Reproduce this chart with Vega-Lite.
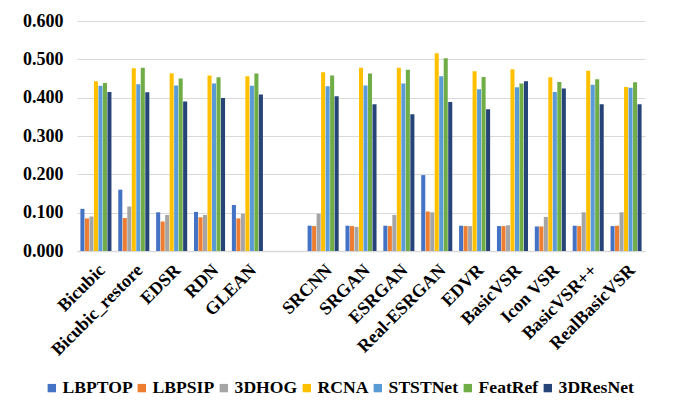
{
  "$schema": "https://vega.github.io/schema/vega-lite/v6.json",
  "width": 568,
  "height": 230,
  "autosize": {"type": "none"},
  "padding": {"left": 77, "top": 21, "right": 28, "bottom": 163},
  "background": "white",
  "datasets": {
    "scores": [
      {"model": "Bicubic", "LBPTOP": 0.110, "LBPSIP": 0.085, "3DHOG": 0.090, "RCNA": 0.443, "STSTNet": 0.431, "FeatRef": 0.438, "3DResNet": 0.415},
      {"model": "Bicubic_restore", "LBPTOP": 0.160, "LBPSIP": 0.086, "3DHOG": 0.116, "RCNA": 0.477, "STSTNet": 0.435, "FeatRef": 0.478, "3DResNet": 0.414},
      {"model": "EDSR", "LBPTOP": 0.101, "LBPSIP": 0.077, "3DHOG": 0.094, "RCNA": 0.464, "STSTNet": 0.432, "FeatRef": 0.450, "3DResNet": 0.390},
      {"model": "RDN", "LBPTOP": 0.102, "LBPSIP": 0.088, "3DHOG": 0.094, "RCNA": 0.458, "STSTNet": 0.437, "FeatRef": 0.453, "3DResNet": 0.399},
      {"model": "GLEAN", "LBPTOP": 0.120, "LBPSIP": 0.085, "3DHOG": 0.097, "RCNA": 0.456, "STSTNet": 0.431, "FeatRef": 0.463, "3DResNet": 0.408},
      {"model": "SRCNN", "LBPTOP": 0.066, "LBPSIP": 0.065, "3DHOG": 0.097, "RCNA": 0.466, "STSTNet": 0.430, "FeatRef": 0.458, "3DResNet": 0.404},
      {"model": "SRGAN", "LBPTOP": 0.066, "LBPSIP": 0.065, "3DHOG": 0.063, "RCNA": 0.478, "STSTNet": 0.432, "FeatRef": 0.463, "3DResNet": 0.383},
      {"model": "ESRGAN", "LBPTOP": 0.066, "LBPSIP": 0.065, "3DHOG": 0.094, "RCNA": 0.478, "STSTNet": 0.437, "FeatRef": 0.473, "3DResNet": 0.357},
      {"model": "Real-ESRGAN", "LBPTOP": 0.198, "LBPSIP": 0.103, "3DHOG": 0.101, "RCNA": 0.516, "STSTNet": 0.456, "FeatRef": 0.503, "3DResNet": 0.389},
      {"model": "EDVR", "LBPTOP": 0.066, "LBPSIP": 0.065, "3DHOG": 0.065, "RCNA": 0.469, "STSTNet": 0.422, "FeatRef": 0.454, "3DResNet": 0.370},
      {"model": "BasicVSR", "LBPTOP": 0.065, "LBPSIP": 0.065, "3DHOG": 0.067, "RCNA": 0.474, "STSTNet": 0.427, "FeatRef": 0.437, "3DResNet": 0.443},
      {"model": "Icon VSR", "LBPTOP": 0.064, "LBPSIP": 0.064, "3DHOG": 0.089, "RCNA": 0.453, "STSTNet": 0.415, "FeatRef": 0.441, "3DResNet": 0.424},
      {"model": "BasicVSR++", "LBPTOP": 0.066, "LBPSIP": 0.065, "3DHOG": 0.101, "RCNA": 0.470, "STSTNet": 0.434, "FeatRef": 0.448, "3DResNet": 0.383},
      {"model": "RealBasicVSR", "LBPTOP": 0.065, "LBPSIP": 0.066, "3DHOG": 0.101, "RCNA": 0.428, "STSTNet": 0.426, "FeatRef": 0.440, "3DResNet": 0.383}
    ]
  },
  "data": {"name": "scores"},
  "transform": [
    {"fold": ["LBPTOP", "LBPSIP", "3DHOG", "RCNA", "STSTNet", "FeatRef", "3DResNet"], "as": ["method", "value"]}
  ],
  "mark": {"type": "bar"},
  "encoding": {
    "x": {
      "field": "model",
      "type": "nominal",
      "sort": null,
      "scale": {
        "domain": ["Bicubic", "Bicubic_restore", "EDSR", "RDN", "GLEAN", " ", "SRCNN", "SRGAN", "ESRGAN", "Real-ESRGAN", "EDVR", "BasicVSR", "Icon VSR", "BasicVSR++", "RealBasicVSR"],
        "paddingInner": 0.18,
        "paddingOuter": 0.09
      },
      "axis": {
        "title": null,
        "labelAngle": -45,
        "labelFont": "Liberation Serif",
        "labelFontWeight": "bold",
        "labelFontSize": 18,
        "labelColor": "black",
        "labelOverlap": false,
        "labelBound": false,
        "ticks": false,
        "labelPadding": 10,
        "domainColor": "#d9d9d9",
        "domainWidth": 1.5,
        "grid": false
      }
    },
    "xOffset": {
      "field": "method",
      "type": "nominal",
      "sort": ["LBPTOP", "LBPSIP", "3DHOG", "RCNA", "STSTNet", "FeatRef", "3DResNet"],
      "scale": {"paddingInner": 0.1}
    },
    "y": {
      "field": "value",
      "type": "quantitative",
      "scale": {"domain": [0, 0.6]},
      "axis": {
        "title": null,
        "format": ".3f",
        "values": [0, 0.1, 0.2, 0.3, 0.4, 0.5, 0.6],
        "labelOverlap": false,
        "labelFont": "Liberation Serif",
        "labelFontWeight": "bold",
        "labelFontSize": 18,
        "labelColor": "black",
        "labelPadding": 14,
        "ticks": false,
        "domain": false,
        "gridColor": "#d9d9d9",
        "gridWidth": 1
      }
    },
    "color": {
      "field": "method",
      "type": "nominal",
      "sort": ["LBPTOP", "LBPSIP", "3DHOG", "RCNA", "STSTNet", "FeatRef", "3DResNet"],
      "scale": {
        "domain": ["LBPTOP", "LBPSIP", "3DHOG", "RCNA", "STSTNet", "FeatRef", "3DResNet"],
        "range": ["#4472C4", "#ED7D31", "#A5A5A5", "#FFC000", "#5B9BD5", "#70AD47", "#264478"]
      },
      "legend": {
        "title": null,
        "orient": "none",
        "legendX": -34,
        "legendY": 358,
        "direction": "horizontal",
        "columns": 7,
        "symbolType": "square",
        "symbolSize": 70,
        "symbolStrokeWidth": 0,
        "labelFont": "Liberation Serif",
        "labelFontWeight": "bold",
        "labelFontSize": 17.6,
        "labelColor": "black",
        "labelOffset": 2,
        "columnPadding": 0,
        "padding": 0
      }
    }
  },
  "config": {"view": {"stroke": null}}
}
